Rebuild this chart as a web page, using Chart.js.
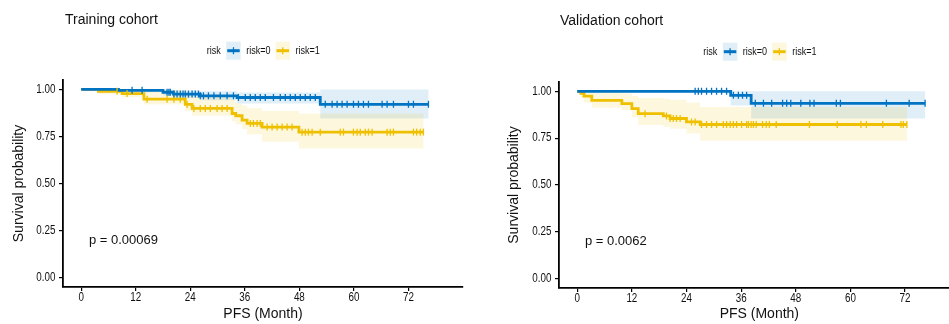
<!DOCTYPE html>
<html>
<head>
<meta charset="utf-8">
<script src="https://cdn.jsdelivr.net/npm/chart.js@4.4.0/dist/chart.umd.min.js"></script>
<style>
body{margin:0;background:#fff;overflow:hidden;width:949px;height:324px;position:relative}
canvas{position:absolute;top:0}
#trainChart{left:0}
#validChart{left:470px}
</style>
</head>
<body>
<canvas id="trainChart" width="470" height="324"></canvas>
<canvas id="validChart" width="485" height="324"></canvas>
<script>
// ---- data ----
var xTicks = [0, 12, 24, 36, 48, 60, 72];
var yTicks = [0, 0.25, 0.5, 0.75, 1];
var groups = ['risk=0', 'risk=1'];

// Training cohort, risk=0
var trainLowTime  = [0, 8.2, 18, 20.3, 26.2, 34.3, 52.6, 76.4];
var trainLowSurv  = [1, 0.995, 0.985, 0.975, 0.966, 0.957, 0.921, 0.921];
var trainLowUpper = [1, 1, 1, 0.995, 0.99, 0.984, 1, 1];
var trainLowLower = [1, 0.985, 0.968, 0.955, 0.942, 0.925, 0.846, 0.846];
var trainLowCens  = [11.2, 13.4, 18.9, 19.3, 19.6, 20.4, 21.1, 21.8, 22.4, 22.9, 23.6, 24.4, 25.1, 25.8, 26.2, 26.9, 28.0, 29.2, 30.6, 32.1, 33.5, 34.6,
  36.1, 37.2, 38.3, 39.4, 40.5, 42.3, 43.8, 44.9, 46.0, 47.1, 48.2, 49.3, 50.4, 51.5,
  53.7, 55.2, 56.3, 57.4, 58.5, 59.9, 61.0, 62.1, 63.2, 66.2, 67.3, 68.7, 72.0, 73.1, 76.4];

// Training cohort, risk=1
var trainHighTime  = [0, 3.8, 9, 13.8, 22.9, 24.4, 33.2, 34, 35.4, 36.5, 39.8, 47.9, 75.3];
var trainHighSurv  = [1, 0.99, 0.978, 0.948, 0.92, 0.899, 0.872, 0.86, 0.837, 0.819, 0.8, 0.773, 0.773];
var trainHighUpper = [1, 1, 1, 0.995, 0.98, 0.96, 0.945, 0.925, 0.915, 0.9, 0.885, 0.872, 0.872];
var trainHighLower = [1, 0.975, 0.958, 0.92, 0.885, 0.86, 0.83, 0.815, 0.79, 0.76, 0.722, 0.686, 0.686];
var trainHighCens  = [7.9, 10.1, 14.5, 18.9, 20.4, 21.8, 23.3, 24.8, 26.2, 27.3, 28.4, 29.9, 31.0, 32.1,
  37.2, 37.9, 38.7, 39.4, 40.9, 42.0, 43.1, 44.2, 45.3, 46.4,
  48.6, 49.3, 50.0, 50.8, 52.6, 57.0, 57.7, 59.9, 60.7, 61.4, 62.5, 63.2, 64.0, 67.3, 68.0, 68.7, 73.1, 73.8, 74.6, 75.3];

// Validation cohort, risk=0
var validLowTime  = [0, 33.7, 38.2, 76.4];
var validLowSurv  = [1, 0.979, 0.936, 0.936];
var validLowUpper = [1, 1, 1, 1];
var validLowLower = [1, 0.925, 0.855, 0.855];
var validLowCens  = [25.9, 26.6, 27.3, 28.4, 29.5, 30.6, 31.7, 32.8, 34.3, 35.4, 36.3, 37.2,
  39.1, 40.9, 42.7, 45.1, 46.0, 46.9, 49.1, 51.1, 52.0, 56.9, 57.8, 67.9, 72.9, 76.4];

// Validation cohort, risk=1
var validHighTime  = [0, 0.8, 1.5, 3.2, 9.8, 12, 13.4, 18.9, 20.4, 24, 27, 72.4];
var validHighSurv  = [1, 0.99, 0.975, 0.952, 0.934, 0.908, 0.881, 0.869, 0.855, 0.837, 0.823, 0.823];
var validHighUpper = [1, 1, 1, 1, 0.99, 0.975, 0.965, 0.96, 0.955, 0.94, 0.916, 0.916];
var validHighLower = [1, 0.965, 0.94, 0.912, 0.9, 0.86, 0.82, 0.81, 0.8, 0.775, 0.736, 0.736];
var validHighCens  = [14.9, 19.6, 20.4, 21.1, 21.8, 22.6, 25.1, 25.9, 27.3, 28.4, 29.5, 30.6, 32.1, 32.8, 33.6, 34.3, 35.0, 36.1, 37.2,
  37.6, 38.2, 38.7, 39.3, 40.7, 41.5, 42.2, 43.7, 51.0, 57.1, 62.3, 63.5, 67.1, 71.1, 71.6, 72.4];

var blue = '#0073C2';
var yellow = '#EFC000';
var blueBand = 'rgba(0,115,194,0.12)';
var yellowBand = 'rgba(239,192,0,0.13)';

var mainFont = "'Liberation Sans', Arial, sans-serif";
var squeeze = 0.82;   // the small text in the figure is horizontally condensed

// ---- helpers ----
var toPoints = function (t, v) {
  return t.map(function (x, i) { return {x: x, y: v[i]}; });
};

// value of a step curve at time c
var survAt = function (t, s, c) {
  var k = 0;
  for (var i = 0; i < t.length; i++) {
    if (t[i] <= c) { k = i; }
  }
  return s[k];
};

var groupSets = function (t, s, cens, color) {
  return [
    {data: toPoints(t, s), stepped: 'before', borderColor: color, borderWidth: 2.8, pointRadius: 0, fill: false, order: 2},
    {data: cens.map(function (c) { return {x: c, y: survAt(t, s, c)}; }), showLine: false,
      pointStyle: 'line', rotation: 90, pointRadius: 3.5, borderColor: color, borderWidth: 1.3, order: 1}
  ];
};

// narrow text: draw with a horizontal squeeze
var narrowText = function (ctx, txt, x, y, align) {
  ctx.save();
  ctx.translate(x, y);
  ctx.scale(squeeze, 1);
  ctx.textAlign = align;
  ctx.fillText(txt, 0, 0);
  ctx.restore();
};

// confidence bands: one stepped polygon per group, placed with the chart scales
var bandPlugin = {
  id: 'bands',
  beforeDatasetsDraw: function (chart) {
    var xs = chart.scales.x, ys = chart.scales.y, ctx = chart.ctx, a = chart.chartArea;
    ctx.save();
    ctx.beginPath(); ctx.rect(a.left, a.top, a.width, a.height); ctx.clip();
    chart.config.options.bands.forEach(function (b) {
      var n = b.t.length, i;
      var X = function (k) { return xs.getPixelForValue(b.t[k]); };
      var U = function (k) { return ys.getPixelForValue(b.up[k]); };
      var L = function (k) { return ys.getPixelForValue(b.lo[k]); };
      ctx.beginPath();
      ctx.moveTo(X(0), U(0));
      for (i = 0; i < n - 1; i++) {
        ctx.lineTo(X(i + 1), U(i));
        if (i + 1 < n - 1) { ctx.lineTo(X(i + 1), U(i + 1)); }
      }
      ctx.lineTo(X(n - 1), L(n - 2));
      for (i = n - 2; i >= 0; i--) {
        ctx.lineTo(X(i), L(i));
        if (i > 0) { ctx.lineTo(X(i), L(i - 1)); }
      }
      ctx.closePath();
      ctx.fillStyle = b.color;
      ctx.fill();
    });
    ctx.restore();
  }
};

var drawLegend = function (ctx, x, yc, colors, bands) {
  ctx.font = '11px ' + mainFont;
  ctx.fillStyle = '#111';
  ctx.textBaseline = 'middle';
  narrowText(ctx, 'risk', x, yc, 'left');
  x += ctx.measureText('risk').width * squeeze + 5.5;
  for (var i = 0; i < groups.length; i++) {
    ctx.fillStyle = bands[i];
    ctx.fillRect(x, yc - 9, 14.5, 18);
    ctx.strokeStyle = colors[i];
    ctx.lineWidth = 3;
    ctx.beginPath(); ctx.moveTo(x + 1, yc); ctx.lineTo(x + 13.5, yc); ctx.stroke();
    ctx.lineWidth = 1.3;
    ctx.beginPath(); ctx.moveTo(x + 7.25, yc - 3.5); ctx.lineTo(x + 7.25, yc + 3.5); ctx.stroke();
    x += 14.5 + 5.5;
    ctx.fillStyle = '#111';
    narrowText(ctx, groups[i], x, yc, 'left');
    x += ctx.measureText(groups[i]).width * squeeze + 5;
  }
};

var makeChart = function (id, cfg) {
  var deco = {
    id: 'deco',
    afterDraw: function (chart) {
      var ctx = chart.ctx, xs = chart.scales.x, ys = chart.scales.y;
      ctx.save();
      // tick labels, positioned by the scales
      ctx.font = '12px ' + mainFont;
      ctx.fillStyle = '#111';
      ctx.textBaseline = 'middle';
      yTicks.forEach(function (v) {
        narrowText(ctx, v.toFixed(2), ys.right - 7.5, ys.getPixelForValue(v), 'right');
      });
      ctx.textBaseline = 'top';
      xTicks.forEach(function (v) {
        narrowText(ctx, String(v), xs.getPixelForValue(v), xs.top + 4.5, 'center');
      });
      // x axis title, centred on the full panel (which runs past the right edge)
      ctx.font = '14px ' + mainFont;
      ctx.textAlign = 'center';
      ctx.textBaseline = 'middle';
      ctx.fillText('PFS (Month)', xs.getPixelForValue(40), chart.height - 9.5);
      // title, legend, p-value
      ctx.textAlign = 'left';
      ctx.textBaseline = 'alphabetic';
      ctx.fillText(cfg.title, cfg.titleX, cfg.titleY);
      drawLegend(ctx, cfg.legX, cfg.legY, [blue, yellow], [blueBand, yellowBand]);
      ctx.font = '13px ' + mainFont;
      ctx.fillStyle = '#111';
      ctx.textAlign = 'left';
      ctx.textBaseline = 'middle';
      ctx.fillText(cfg.pval, xs.getPixelForValue(1.7), ys.getPixelForValue(0.2));
      ctx.restore();
    }
  };
  return new Chart(document.getElementById(id), {
    type: 'line',
    data: {datasets: cfg.sets},
    plugins: [bandPlugin, deco],
    options: {
      responsive: false,
      animation: false,
      devicePixelRatio: 1,
      bands: cfg.bands,
      layout: {padding: {top: cfg.padTop, right: cfg.padRight, left: 0, bottom: 0}},
      plugins: {legend: {display: false}, tooltip: {enabled: false}},
      scales: {
        x: {
          type: 'linear', min: -4, max: cfg.xMax,
          afterBuildTicks: function (s) { s.ticks = xTicks.map(function (v) { return {value: v}; }); },
          afterFit: function (s) { s.height = cfg.xh; },
          ticks: {display: false},
          grid: {drawOnChartArea: false, tickLength: 4, color: '#000', lineWidth: 1.2},
          border: {color: '#000', width: 1.8}
        },
        y: {
          type: 'linear', min: -0.05, max: 1.05,
          afterBuildTicks: function (s) { s.ticks = yTicks.map(function (v) { return {value: v}; }); },
          afterFit: function (s) { s.width = cfg.yw; },
          ticks: {display: false},
          grid: {drawOnChartArea: false, tickLength: 4, color: '#000', lineWidth: 1.2},
          border: {color: '#000', width: 1.8},
          title: {display: true, text: 'Survival probability', font: {size: 14, family: mainFont}, color: '#111', padding: {top: cfg.yTitlePad, bottom: 0}}
        }
      }
    }
  });
};

makeChart('trainChart', {
  title: 'Training cohort', titleX: 65, titleY: 23.5,
  legX: 206.7, legY: 50.7,
  pval: 'p = 0.00069',
  padTop: 80, padRight: 7, yw: 63, xh: 37, yTitlePad: 10.6, xMax: 84,
  bands: [
    {t: trainLowTime, up: trainLowUpper, lo: trainLowLower, color: blueBand},
    {t: trainHighTime, up: trainHighUpper, lo: trainHighLower, color: yellowBand}
  ],
  sets: groupSets(trainLowTime, trainLowSurv, trainLowCens, blue)
    .concat(groupSets(trainHighTime, trainHighSurv, trainHighCens, yellow))
});

// the right panel runs past the picture's edge, so its axis is cut at the border
makeChart('validChart', {
  title: 'Validation cohort', titleX: 90, titleY: 24.5,
  legX: 233.3, legY: 51.7,
  pval: 'p = 0.0062',
  padTop: 82, padRight: 0, yw: 89, xh: 36, yTitlePad: 35.6, xMax: 81.8,
  bands: [
    {t: validLowTime, up: validLowUpper, lo: validLowLower, color: blueBand},
    {t: validHighTime, up: validHighUpper, lo: validHighLower, color: yellowBand}
  ],
  sets: groupSets(validLowTime, validLowSurv, validLowCens, blue)
    .concat(groupSets(validHighTime, validHighSurv, validHighCens, yellow))
});
</script>
</body>
</html>
